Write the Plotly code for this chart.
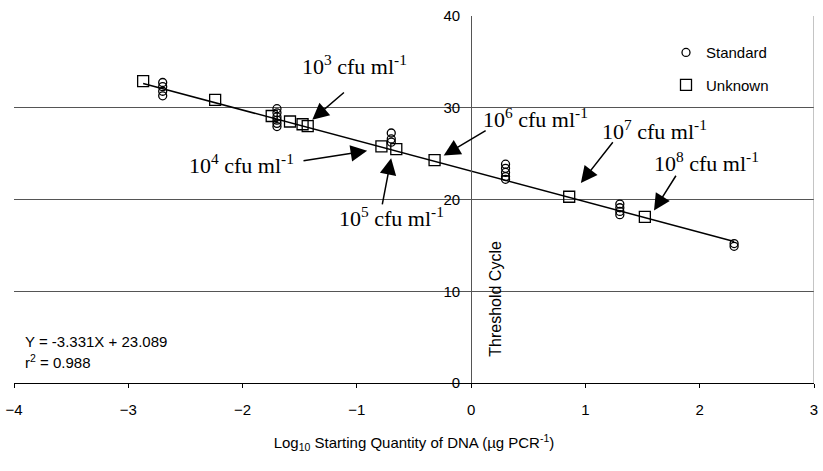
import plotly.graph_objects as go

# ---- data ----
std_x = [-2.699]*4 + [-1.699]*6 + [-0.699]*3 + [0.301]*5 + [1.301]*4 + [2.301]*2
std_y = [32.75, 32.3, 31.8, 31.3,
         29.9, 29.45, 29.0, 28.65, 28.3, 27.95,
         27.25, 26.6, 26.25,
         23.85, 23.4, 22.95, 22.5, 22.2,
         19.5, 19.1, 18.7, 18.35,
         15.2, 14.9]
unk_x = [-2.87, -2.24, -1.745, -1.585, -1.475, -1.43, -0.785, -0.655, -0.32, 0.858, 1.52]
unk_y = [32.9, 30.85, 29.1, 28.5, 28.2, 28.0, 25.8, 25.5, 24.3, 20.3, 18.1]
slope = -3.331
intercept = 23.089
r2 = 0.988

x_ticks = [-4, -3, -2, -1, 0, 1, 2, 3]
y_ticks = [0, 10, 20, 30, 40]

labels = ["10<sup>3</sup> cfu ml<sup>-1</sup>", "10<sup>4</sup> cfu ml<sup>-1</sup>",
          "10<sup>5</sup> cfu ml<sup>-1</sup>", "10<sup>6</sup> cfu ml<sup>-1</sup>",
          "10<sup>7</sup> cfu ml<sup>-1</sup>", "10<sup>8</sup> cfu ml<sup>-1</sup>"]
label_x = [-1.02, -2.01, -0.70, 0.56, 1.60, 2.06]
label_y = [34.7, 23.9, 18.1, 28.9, 27.6, 24.1]
tail_x = [-1.10, -1.48, -0.78, 0.14, 1.25, 1.80]
tail_y = [31.8, 24.2, 19.3, 27.6, 26.4, 22.75]
tip_x = [-1.39, -0.91, -0.70, -0.24, 0.96, 1.60]
tip_y = [28.7, 25.3, 24.5, 24.8, 21.8, 18.8]

sans = "Liberation Sans, Arial, sans-serif"
serif = "Liberation Serif, Times New Roman, serif"

x_line = [min(unk_x + std_x), max(unk_x + std_x)]
y_line = [slope * v + intercept for v in x_line]

fig = go.Figure()
fig.add_trace(go.Scatter(x=x_line, y=y_line, mode="lines",
                         line=dict(color="black", width=1.5), showlegend=False, hoverinfo="skip"))
fig.add_trace(go.Scatter(x=std_x, y=std_y, mode="markers", name="Standard", legendgroup="a",
                         marker=dict(symbol="circle-open", size=8, color="black", line=dict(width=1.3))))
fig.add_trace(go.Scatter(x=unk_x, y=unk_y, mode="markers", name="Unknown", legendgroup="b",
                         marker=dict(symbol="square-open", size=11, color="black", line=dict(width=1.3))))

annotations = []
for t, lx, ly in zip(labels, label_x, label_y):
    annotations.append(dict(x=lx, y=ly, xref="x", yref="y", text=t, showarrow=False,
                            font=dict(family=serif, size=22, color="black")))
for tx, ty, px, py in zip(tail_x, tail_y, tip_x, tip_y):
    annotations.append(dict(x=px, y=py, ax=tx, ay=ty, xref="x", yref="y", axref="x", ayref="y",
                            text="", showarrow=True, arrowhead=2, arrowsize=2.2, arrowwidth=1.5,
                            arrowcolor="black", standoff=0))
annotations.append(dict(x=-3.92, y=4.5, xref="x", yref="y", xanchor="left",
                        text=f"Y = {slope}X + {intercept}", showarrow=False,
                        font=dict(family=sans, size=15, color="black")))
annotations.append(dict(x=-3.92, y=2.3, xref="x", yref="y", xanchor="left",
                        text=f"r<sup>2</sup> = {r2}", showarrow=False,
                        font=dict(family=sans, size=15, color="black")))
annotations.append(dict(x=0.21, y=9.2, xref="x", yref="y", text="Threshold Cycle",
                        textangle=-90, showarrow=False,
                        font=dict(family=sans, size=16, color="black")))

fig.update_layout(
    width=823, height=471,
    margin=dict(l=12, r=5, t=16, b=88),
    plot_bgcolor="white", paper_bgcolor="white",
    font=dict(family=sans, size=15, color="black"),
    annotations=annotations,
    shapes=[dict(type="line", xref="x", yref="y", x0=3, x1=3, y0=0, y1=40,
                 line=dict(color="#888", width=1))],
    legend=dict(x=0.815, y=0.945, xanchor="left", yanchor="top", bgcolor="rgba(0,0,0,0)",
                font=dict(family=sans, size=15), traceorder="grouped", tracegroupgap=10),
    xaxis=dict(range=[-4, 3], tickvals=x_ticks, showgrid=False, zeroline=False,
               showline=True, linecolor="black", linewidth=1, ticks="outside", ticklen=4,
               tickcolor="black", ticklabelstandoff=9,
               tickfont=dict(family=sans, size=15),
               title=dict(text="Log<sub>10</sub> Starting Quantity of DNA (µg PCR<sup>-1</sup>)",
                          font=dict(family=sans, size=15), standoff=20)),
    yaxis=dict(range=[0, 40], tickvals=y_ticks, showgrid=True, gridcolor="#555", gridwidth=1,
               zeroline=False, anchor="free", position=4/7, showline=True, linecolor="#555",
               ticks="", ticklabelstandoff=8, tickfont=dict(family=sans, size=15)),
)

fig.write_html("out.html")
